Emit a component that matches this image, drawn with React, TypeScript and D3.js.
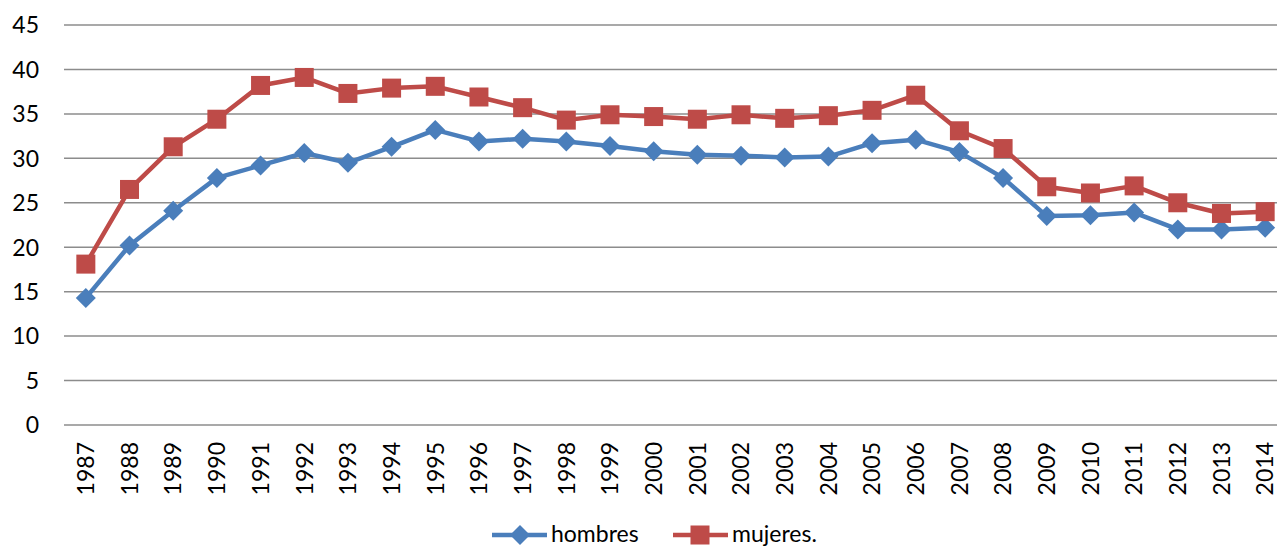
import React from 'react';
import * as d3 from 'd3';

// Years on the category axis
const years = [
  '1987', '1988', '1989', '1990', '1991', '1992', '1993', '1994', '1995', '1996',
  '1997', '1998', '1999', '2000', '2001', '2002', '2003', '2004', '2005', '2006',
  '2007', '2008', '2009', '2010', '2011', '2012', '2013', '2014',
];

const hombres = [
  14.3, 20.2, 24.1, 27.8, 29.2, 30.6, 29.5, 31.3, 33.2, 31.9,
  32.2, 31.9, 31.4, 30.8, 30.4, 30.3, 30.1, 30.2, 31.7, 32.1,
  30.7, 27.8, 23.5, 23.6, 23.9, 22.0, 22.0, 22.2,
];

const mujeres = [
  18.1, 26.5, 31.3, 34.4, 38.2, 39.1, 37.3, 37.9, 38.1, 36.9,
  35.7, 34.3, 34.9, 34.7, 34.4, 34.9, 34.5, 34.8, 35.4, 37.1,
  33.1, 31.1, 26.8, 26.1, 26.9, 25.0, 23.8, 24.0,
];

const yTicks = [0, 5, 10, 15, 20, 25, 30, 35, 40, 45];

const BLUE = '#4A7EBB';
const RED = '#BE4B48';
const FONT = 'Lato, "Open Sans", sans-serif';

const W = 1277;
const H = 548;

const App: React.FC = () => {
  const x = d3.scaleBand<string>().domain(years).range([64, 1287]);
  const y = d3.scaleLinear().domain([0, 45]).range([425, 25]);
  const cx = (d: string) => (x(d) || 0) + x.bandwidth() / 2;

  const line = d3.line<number>()
    .x((_, i) => cx(years[i]))
    .y(d => y(d));

  const diamond = (px: number, py: number, r: number) =>
    `M${px},${py - r}L${px + r},${py}L${px},${py + r}L${px - r},${py}Z`;

  const legY = 535;

  return (
    <svg width={W} height={H} style={{ position: 'absolute', left: 0, top: 0, background: '#fff' }}>
      {/* gridlines */}
      {yTicks.map(t => (
        <line key={t} x1={64} x2={W} y1={y(t)} y2={y(t)} stroke="#8c8c8c" strokeWidth={1.5} />
      ))}
      {/* y labels */}
      {yTicks.map(t => (
        <text key={'l' + t} x={39} y={y(t)} dy="0.36em" textAnchor="end"
          fontFamily={FONT} fontSize={23} fill="#000">{t}</text>
      ))}
      {/* x labels */}
      {years.map(yr => (
        <text key={yr} transform={`translate(${cx(yr)},442) rotate(-90)`} dy="0.36em"
          textAnchor="end" fontFamily={FONT} fontSize={23} fill="#000">{yr}</text>
      ))}

      {/* hombres */}
      <path d={line(hombres) || ''} fill="none" stroke={BLUE} strokeWidth={4.5} strokeLinejoin="round" />
      {hombres.map((v, i) => (
        <path key={'h' + i} d={diamond(cx(years[i]), y(v), 10)} fill={BLUE} />
      ))}

      {/* mujeres */}
      <path d={line(mujeres) || ''} fill="none" stroke={RED} strokeWidth={4.5} strokeLinejoin="round" />
      {mujeres.map((v, i) => (
        <rect key={'m' + i} x={cx(years[i]) - 9.5} y={y(v) - 9.5} width={19} height={19} fill={RED} />
      ))}

      {/* legend */}
      <g fontFamily={FONT} fontSize={23} fill="#000">
        <line x1={492} x2={547} y1={legY} y2={legY} stroke={BLUE} strokeWidth={4.5} />
        <path d={diamond(520, legY, 10)} fill={BLUE} />
        <text x={551} y={legY} dy="0.3em">hombres</text>
        <line x1={673} x2={728} y1={legY} y2={legY} stroke={RED} strokeWidth={4.5} />
        <rect x={690.5} y={legY - 9.5} width={19} height={19} fill={RED} />
        <text x={732} y={legY} dy="0.3em">mujeres.</text>
      </g>
    </svg>
  );
};

export default App;
